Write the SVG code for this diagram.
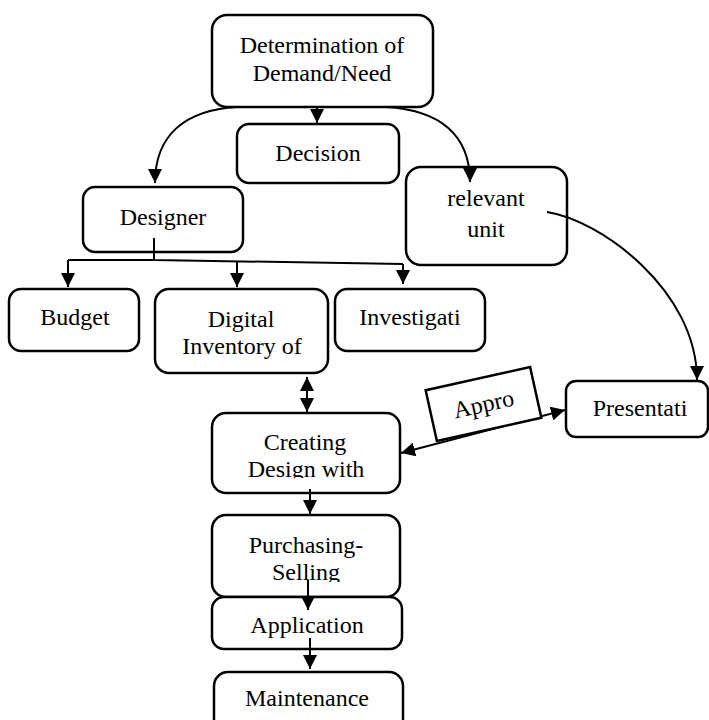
<svg xmlns="http://www.w3.org/2000/svg" width="709" height="720" viewBox="0 0 709 720">
  <style>
    .box { fill: #ffffff; stroke: #000000; stroke-width: 2.5; }
    .lbl { font-family: "Liberation Serif", "Times New Roman", serif; font-size: 24px; fill: #000000; text-anchor: middle; }
    .con { fill: none; stroke: #000000; stroke-width: 2; }
  </style>
  <defs>
    <marker id="arrow" viewBox="0 0 10 10" refX="10" refY="5" markerWidth="14" markerHeight="14" markerUnits="userSpaceOnUse" orient="auto-start-reverse">
      <path d="M0,0 L10,5 L0,10 z" fill="#000000"/>
    </marker>
    <clipPath id="clipCreating"><rect x="212" y="413" width="188" height="65"/></clipPath>
    <clipPath id="clipPurchasing"><rect x="212" y="515" width="188" height="67"/></clipPath>
  </defs>

  <g id="n-determination">
    <rect class="box" x="212" y="15" width="221" height="92" rx="15"/>
    <text class="lbl" x="322" y="53">Determination of</text>
    <text class="lbl" x="322" y="81">Demand/Need</text>
  </g>
  <g id="n-decision">
    <rect class="box" x="237" y="124" width="162" height="59" rx="12"/>
    <text class="lbl" x="318" y="161">Decision</text>
  </g>
  <g id="n-designer">
    <rect class="box" x="83" y="187" width="160" height="65" rx="12"/>
    <text class="lbl" x="163" y="225">Designer</text>
  </g>
  <g id="n-relevant">
    <rect class="box" x="406" y="167" width="161" height="98" rx="15"/>
    <text class="lbl" x="486" y="206">relevant</text>
    <text class="lbl" x="486" y="237">unit</text>
  </g>
  <g id="n-budget">
    <rect class="box" x="9" y="289" width="130" height="62" rx="12"/>
    <text class="lbl" x="75" y="325">Budget</text>
  </g>
  <g id="n-digital">
    <rect class="box" x="155" y="289" width="173" height="84" rx="14"/>
    <text class="lbl" x="241" y="327">Digital</text>
    <text class="lbl" x="242" y="354">Inventory of</text>
  </g>
  <g id="n-investigati">
    <rect class="box" x="335" y="289" width="150" height="62" rx="12"/>
    <text class="lbl" x="410" y="325">Investigati</text>
  </g>
  <g id="n-presentati">
    <rect class="box" x="566" y="381" width="142" height="56" rx="10"/>
    <text class="lbl" x="640" y="416">Presentati</text>
  </g>
  <g id="n-creating">
    <rect class="box" x="212" y="413" width="188" height="80" rx="14"/>
    <g clip-path="url(#clipCreating)">
      <text class="lbl" x="305" y="450">Creating</text>
      <text class="lbl" x="306" y="477">Design with</text>
    </g>
  </g>
  <g id="n-purchasing">
    <rect class="box" x="212" y="515" width="188" height="82" rx="14"/>
    <g clip-path="url(#clipPurchasing)">
      <text class="lbl" x="306" y="553">Purchasing-</text>
      <text class="lbl" x="306" y="580">Selling</text>
    </g>
  </g>
  <g id="n-application">
    <rect class="box" x="212" y="597" width="190" height="52" rx="12"/>
    <text class="lbl" x="307" y="633">Application</text>
  </g>
  <g id="n-maintenance">
    <rect class="box" x="214" y="672" width="189" height="70" rx="14"/>
    <text class="lbl" x="307" y="706">Maintenance</text>
  </g>

  <g id="connectors">
    <path class="con" d="M237 107 C185 110 155 135 155 183" marker-end="url(#arrow)"/>
    <path class="con" d="M317 107 V123" marker-end="url(#arrow)"/>
    <path class="con" d="M386 107 C440 110 470 135 470 182" marker-end="url(#arrow)"/>
    <path class="con" d="M154 238 V260 M68 260 H154 L403 264"/>
    <path class="con" d="M68 260 V287" marker-end="url(#arrow)"/>
    <path class="con" d="M237 261 V287" marker-end="url(#arrow)"/>
    <path class="con" d="M403 264 V284" marker-end="url(#arrow)"/>
    <path class="con" d="M547 212 C600 220 697 290 697 380" marker-end="url(#arrow)"/>
    <path class="con" d="M307 377 V412" marker-start="url(#arrow)" marker-end="url(#arrow)"/>
    <path class="con" d="M310 489 V514" marker-end="url(#arrow)"/>
    <path class="con" d="M308 580 V610" marker-end="url(#arrow)"/>
    <path class="con" d="M310 638 V669" marker-end="url(#arrow)"/>
    <path class="con" d="M401 453 L565 410" marker-start="url(#arrow)" marker-end="url(#arrow)"/>
  </g>

  <g id="n-appro" transform="translate(483.5,404) rotate(-12.5)">
    <rect x="-53.5" y="-26" width="107" height="52" fill="#ffffff" stroke="#000000" stroke-width="2.5"/>
    <text class="lbl" x="0" y="8">Appro</text>
  </g>
</svg>
